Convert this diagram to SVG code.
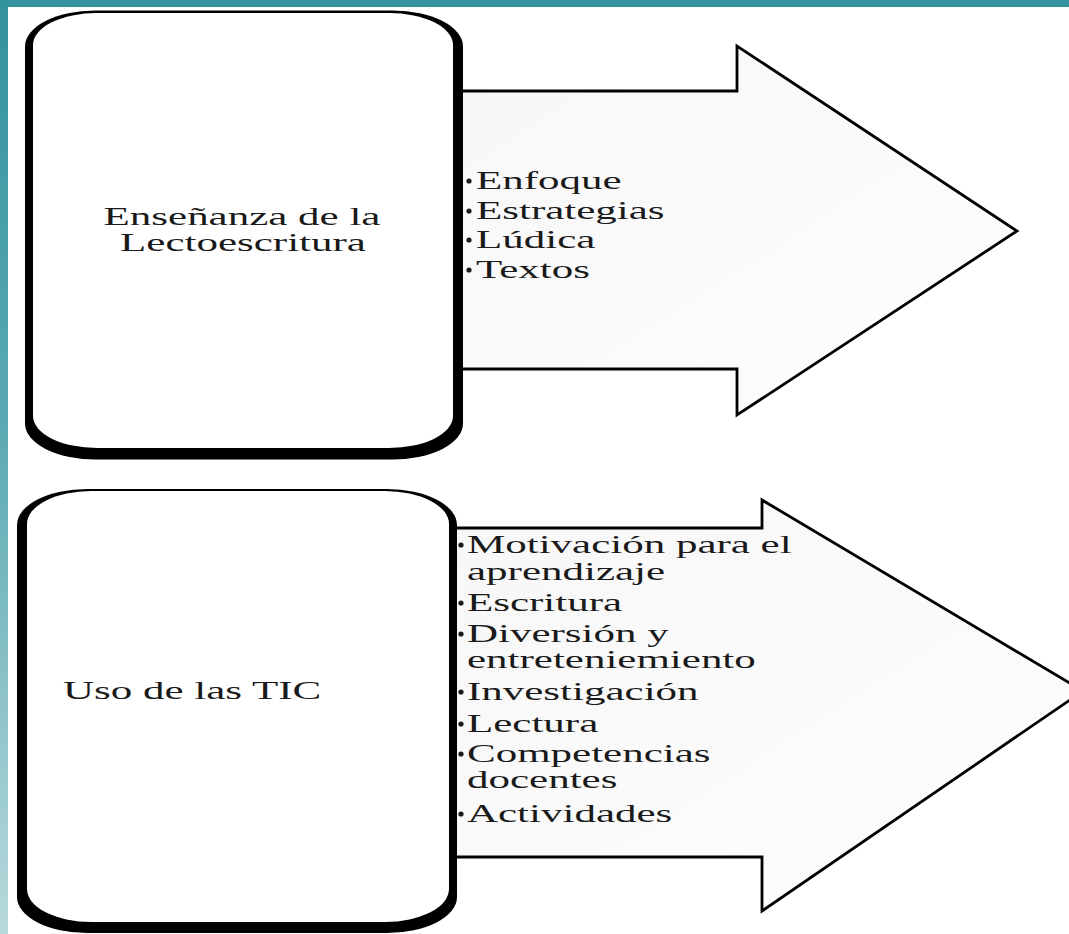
<svg xmlns="http://www.w3.org/2000/svg" width="1069" height="934" viewBox="0 0 1069 934">
<defs>
<linearGradient id="sidebar" x1="0" y1="0" x2="0" y2="1">
<stop offset="0" stop-color="#33939f"/>
<stop offset="0.45" stop-color="#5aa9b2"/>
<stop offset="1" stop-color="#b8d9dc"/>
</linearGradient>
<linearGradient id="arrowfill" x1="0" y1="0" x2="1" y2="1">
<stop offset="0" stop-color="#f7f7f7"/>
<stop offset="1" stop-color="#fdfdfd"/>
</linearGradient>
<style>
.arrow{fill:url(#arrowfill);stroke:#000;stroke-width:2.8;stroke-linejoin:miter}
.shadow{fill:#000}
.face{fill:#fff}
.t{font-family:"Liberation Serif","Times New Roman",serif;font-size:25px;fill:#1a1a1a}
.dot{fill:#1a1a1a}
</style>
</defs>
<rect x="0" y="0" width="1069" height="934" fill="#fff"/>
<rect x="0" y="0" width="8" height="934" fill="url(#sidebar)"/>
<rect x="0" y="0" width="1069" height="7" fill="#33939f"/>

<g id="connectors">
<polygon id="arrow1" class="arrow" points="440,91 737,91 737,46 1017,231 737,415 737,369 440,369"/>
<polygon id="arrow2" class="arrow" points="440,528 762,528 762,500 1083,691 762,911 762,857 440,857"/>
</g>

<g id="box1">
<rect class="shadow" x="25" y="10.5" width="438" height="449" rx="70" ry="36"/>
<rect class="face" x="33" y="13" width="420" height="435" rx="64" ry="32"/>
<text class="t" text-anchor="middle" transform="matrix(1.72 0 0 1 242 225)">Enseñanza de la</text>
<text class="t" text-anchor="middle" transform="matrix(1.72 0 0 1 243 251)">Lectoescritura</text>
</g>

<g id="box2">
<rect class="shadow" x="17" y="489" width="440" height="444" rx="70" ry="36"/>
<rect class="face" x="27" y="491" width="422" height="431" rx="64" ry="33"/>
<text class="t" transform="matrix(1.72 0 0 1 63 699)">Uso de las TIC</text>
</g>

<g id="list1">
<circle class="dot" cx="469" cy="181" r="2.6"/>
<text class="t" transform="matrix(1.72 0 0 1 476 189)">Enfoque</text>
<circle class="dot" cx="469" cy="211" r="2.6"/>
<text class="t" transform="matrix(1.72 0 0 1 476 219)">Estrategias</text>
<circle class="dot" cx="469" cy="240" r="2.6"/>
<text class="t" transform="matrix(1.72 0 0 1 476 248)">Lúdica</text>
<circle class="dot" cx="469" cy="270" r="2.6"/>
<text class="t" transform="matrix(1.72 0 0 1 476 278)">Textos</text>
</g>

<g id="list2">
<circle class="dot" cx="461" cy="545" r="2.6"/>
<text class="t" transform="matrix(1.72 0 0 1 467 553)">Motivación para el</text>
<text class="t" transform="matrix(1.72 0 0 1 467 580)">aprendizaje</text>
<circle class="dot" cx="461" cy="603" r="2.6"/>
<text class="t" transform="matrix(1.72 0 0 1 467 611)">Escritura</text>
<circle class="dot" cx="461" cy="634" r="2.6"/>
<text class="t" transform="matrix(1.72 0 0 1 467 642)">Diversión y</text>
<text class="t" transform="matrix(1.72 0 0 1 467 668)">entreteniemiento</text>
<circle class="dot" cx="461" cy="692" r="2.6"/>
<text class="t" transform="matrix(1.72 0 0 1 467 700)">Investigación</text>
<circle class="dot" cx="461" cy="724" r="2.6"/>
<text class="t" transform="matrix(1.72 0 0 1 467 732)">Lectura</text>
<circle class="dot" cx="461" cy="754" r="2.6"/>
<text class="t" transform="matrix(1.72 0 0 1 467 762)">Competencias</text>
<text class="t" transform="matrix(1.72 0 0 1 467 788)">docentes</text>
<circle class="dot" cx="461" cy="814" r="2.6"/>
<text class="t" transform="matrix(1.72 0 0 1 467 822)">Actividades</text>
</g>
</svg>
